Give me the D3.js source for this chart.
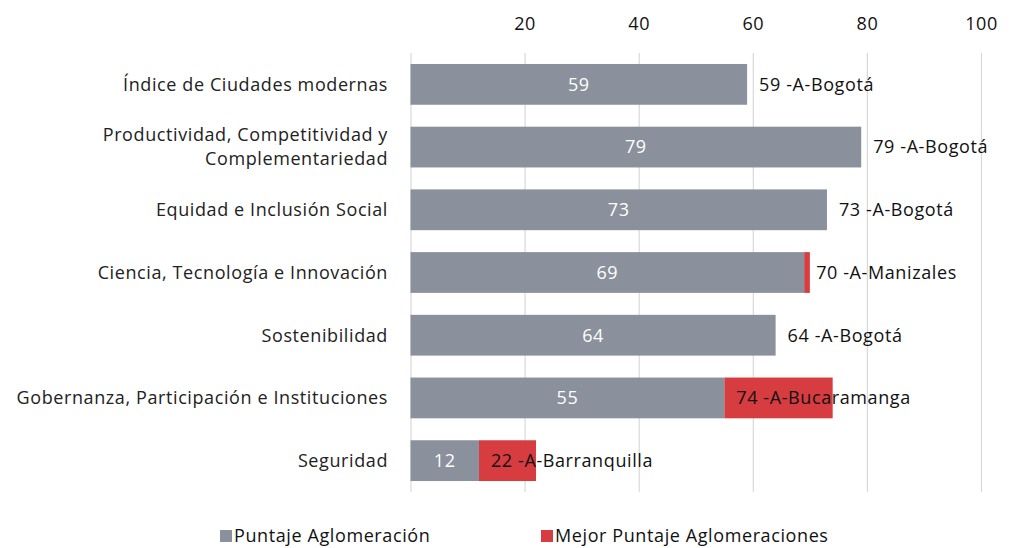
<!DOCTYPE html>
<html>
<head>
<meta charset="utf-8">
<script src="https://cdn.jsdelivr.net/npm/d3@7"></script>
<style>
  body { margin: 0; background: #fff; }
  svg text { font-family: 'Open Sans', 'Lato', sans-serif; letter-spacing: 0.6px; }
</style>
</head>
<body>
<div id="chart"></div>
<script>
// data
const categories = [
  'Índice de Ciudades modernas',
  'Productividad, Competitividad y|Complementariedad',
  'Equidad e Inclusión Social',
  'Ciencia, Tecnología e Innovación',
  'Sostenibilidad',
  'Gobernanza, Participación e Instituciones',
  'Seguridad'
];
const puntaje = [59, 79, 73, 69, 64, 55, 12];
const mejor = [59, 79, 73, 70, 64, 74, 22];
const ciudades = ['Bogotá', 'Bogotá', 'Bogotá', 'Manizales', 'Bogotá', 'Bucaramanga', 'Barranquilla'];
const xTicks = [0, 20, 40, 60, 80, 100];
const seriesNames = ['Puntaje Aglomeración', 'Mejor Puntaje Aglomeraciones'];

const width = 1013;
const height = 548;
const grey = '#8a909c';
const red = '#d63c40';
const fs = 18;

const rows = categories.map((c, i) => ({
  cat: c, val: puntaje[i], best: mejor[i], city: ciudades[i]
}));

let svg = d3.select('#chart')
  .append('svg')
  .attr('width', width)
  .attr('height', height);

// scales
let x = d3.scaleLinear()
  .domain([0, 100])
  .range([410.5, 981]);

let y = d3.scaleBand()
  .domain(categories)
  .range([53, 492])
  .paddingInner(0.35)
  .paddingOuter(0.175);

// gridlines + top axis
let axis = svg.append('g')
  .attr('transform', 'translate(0,53)')
  .call(d3.axisTop(x)
    .tickValues(xTicks)
    .tickSize(-439)
    .tickPadding(23)
    .tickFormat((d) => d === 0 ? '' : d));
axis.select('.domain').remove();
axis.selectAll('line').attr('stroke', '#d9d9d9').attr('stroke-width', 1.2);
axis.selectAll('text')
  .attr('font-size', fs)
  .attr('fill', '#111');

// red bars (best score, drawn from the group score on)
svg.selectAll('.best')
  .data(rows)
  .enter().append('rect')
  .attr('class', 'best')
  .attr('x', (d) => x(d.val))
  .attr('y', (d) => y(d.cat))
  .attr('width', (d) => x(d.best) - x(d.val))
  .attr('height', y.bandwidth())
  .attr('fill', red);

// grey bars
svg.selectAll('.score')
  .data(rows)
  .enter().append('rect')
  .attr('class', 'score')
  .attr('x', x(0))
  .attr('y', (d) => y(d.cat))
  .attr('width', (d) => x(d.val) - x(0))
  .attr('height', y.bandwidth())
  .attr('fill', grey);

// value labels inside grey bars
svg.selectAll('.valLabel')
  .data(rows)
  .enter().append('text')
  .attr('class', 'valLabel')
  .attr('x', (d) => (x(0) + x(d.val)) / 2)
  .attr('y', (d) => y(d.cat) + y.bandwidth() / 2)
  .attr('dy', '0.35em')
  .attr('text-anchor', 'middle')
  .attr('font-size', fs)
  .attr('fill', '#fff')
  .text((d) => d.val);

// best score labels
svg.selectAll('.bestLabel')
  .data(rows)
  .enter().append('text')
  .attr('class', 'bestLabel')
  .attr('x', (d) => x(d.val) + 12)
  .attr('y', (d) => y(d.cat) + y.bandwidth() / 2)
  .attr('dy', '0.35em')
  .attr('font-size', fs)
  .attr('fill', '#111')
  .text((d) => d.best + ' -A-' + d.city);

// category labels
let catLabels = svg.selectAll('.catLabel')
  .data(rows)
  .enter().append('text')
  .attr('class', 'catLabel')
  .attr('text-anchor', 'end')
  .attr('font-size', fs)
  .attr('fill', '#222')
  .attr('y', (d) => y(d.cat) + y.bandwidth() / 2);

catLabels.each(function(d) {
  const lines = d.cat.split('|');
  const t = d3.select(this);
  lines.forEach((ln, i) => {
    t.append('tspan')
      .attr('x', 388)
      .attr('dy', i === 0 ? (0.35 - (lines.length - 1) * 0.67) + 'em' : '1.34em')
      .text(ln);
  });
});

// legend
const legendX = [220, 541];
let legend = svg.selectAll('.legend')
  .data(seriesNames)
  .enter().append('g')
  .attr('class', 'legend')
  .attr('transform', (d, i) => 'translate(' + legendX[i] + ',536)');

legend.append('rect')
  .attr('x', 0)
  .attr('y', -6)
  .attr('width', 12)
  .attr('height', 12)
  .attr('fill', (d, i) => i === 0 ? grey : red);

legend.append('text')
  .attr('x', 14)
  .attr('dy', '0.35em')
  .attr('font-size', fs)
  .attr('fill', '#111')
  .text((d) => d);
</script>
</body>
</html>
